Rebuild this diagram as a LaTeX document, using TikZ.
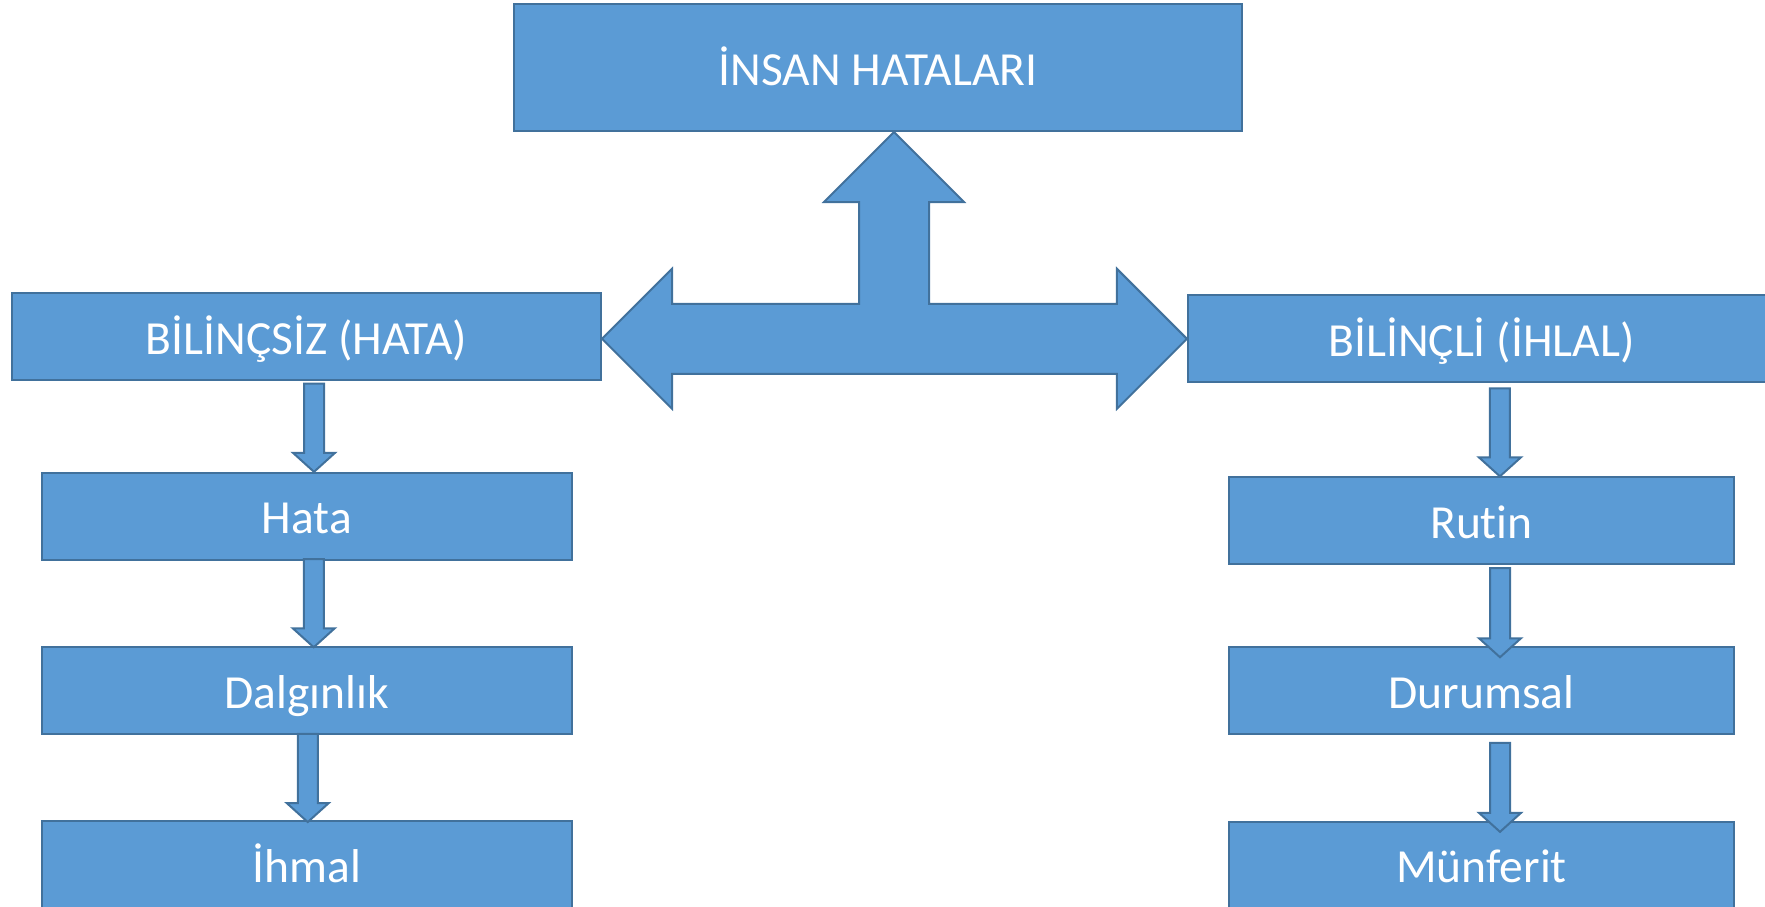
\documentclass[tikz,border=0pt]{standalone}
\usepackage{fontspec}
\setmainfont{Carlito}[Ligatures=NoCommon]
\usepackage{tikz}
\usetikzlibrary{calc}
\definecolor{BleuFond}{HTML}{5B9BD5}
\definecolor{BleuBord}{HTML}{41719C}
\tikzset{
Boite/.style={
 rectangle, 
 draw=BleuBord, 
 fill=BleuFond, 
 line width=2pt, 
 text=white, 
 font=\fontsize{47.5}{57}\selectfont, 
 text height=47.5pt, 
 text depth=12pt, 
 inner sep=0pt
 },
FlecheBloc/.style={
 draw=BleuBord, 
 fill=BleuFond, 
 line width=2pt, 
 line join=miter
 }
}
\newcommand{\FlecheBas}[5]{%
 \path[FlecheBloc] let \p1=($(#1.south)+(#3,#4)$), \p2=($(#2.north)+(#3,#5)$) in
 (\x1-10pt,\y1) -- (\x1+10pt,\y1) -- (\x1+10pt,\y2+19pt) -- (\x1+21pt,\y2+19pt)
 -- (\x1,\y2) -- (\x1-21pt,\y2+19pt) -- (\x1-10pt,\y2+19pt) -- cycle;
}

\begin{document}
\begin{tikzpicture}[x=1pt,y=-1pt]
\useasboundingbox (0,0) rectangle (1765,907);
\node[Boite,minimum width=728pt,minimum height=127pt] (humain) at (878,67.5) {İNSAN HATALARI};
\node[Boite,minimum width=589pt,minimum height=87pt] (bilincsiz) at (306.5,336.5) {BİLİNÇSİZ (HATA)};
\node[Boite,minimum width=587pt,minimum height=87pt] (bilincli) at (1481.4,338.8) {BİLİNÇLİ (İHLAL)};
\node[Boite,minimum width=530.5pt,minimum height=86.7pt] (hata) at (306.75,516.2) {Hata};
\node[Boite,minimum width=530.5pt,minimum height=86.7pt] (dalginlik) at (306.75,690.6) {Dalgınlık};
\node[Boite,minimum width=530.5pt,minimum height=86.7pt] (ihmal) at (306.75,864.4) {İhmal};
\node[Boite,minimum width=505pt,minimum height=86.7pt] (rutin) at (1481.5,520.7) {Rutin};
\node[Boite,minimum width=505pt,minimum height=86.7pt] (durumsal) at (1481.5,690.6) {Durumsal};
\node[Boite,minimum width=505pt,minimum height=86.7pt] (munferit) at (1481.5,865.2) {Münferit};
\path[FlecheBloc] let \p1=($(humain.south)+(16,0)$), \p2=(bilincsiz.east), \p3=(bilincli.west) in
 (\x1,\y1) -- (\x1+70pt,\y1-70pt) -- (\x1+35pt,\y1-70pt) -- (\x1+35pt,\y3+35pt)
 -- (\x3-70pt,\y3+35pt) -- (\x3-70pt,\y3+70pt) -- (\x3,\y3) -- (\x3-70pt,\y3-70pt)
 -- (\x3-70pt,\y3-35pt) -- (\x2+70pt,\y3-35pt) -- (\x2+70pt,\y3-70pt) -- (\x2,\y3)
 -- (\x2+70pt,\y3+70pt) -- (\x2+70pt,\y3+35pt) -- (\x1-35pt,\y3+35pt)
 -- (\x1-35pt,\y1-70pt) -- (\x1-70pt,\y1-70pt) -- cycle;
\FlecheBas{bilincsiz}{hata}{7.5}{2.7}{0}
\FlecheBas{hata}{dalginlik}{7}{-1.5}{1}
\FlecheBas{dalginlik}{ihmal}{1}{-1}{2}
\FlecheBas{bilincli}{rutin}{18.5}{5}{0}
\FlecheBas{rutin}{durumsal}{18.5}{3}{11}
\FlecheBas{durumsal}{munferit}{18.5}{8}{11}
\end{tikzpicture}
\end{document}
